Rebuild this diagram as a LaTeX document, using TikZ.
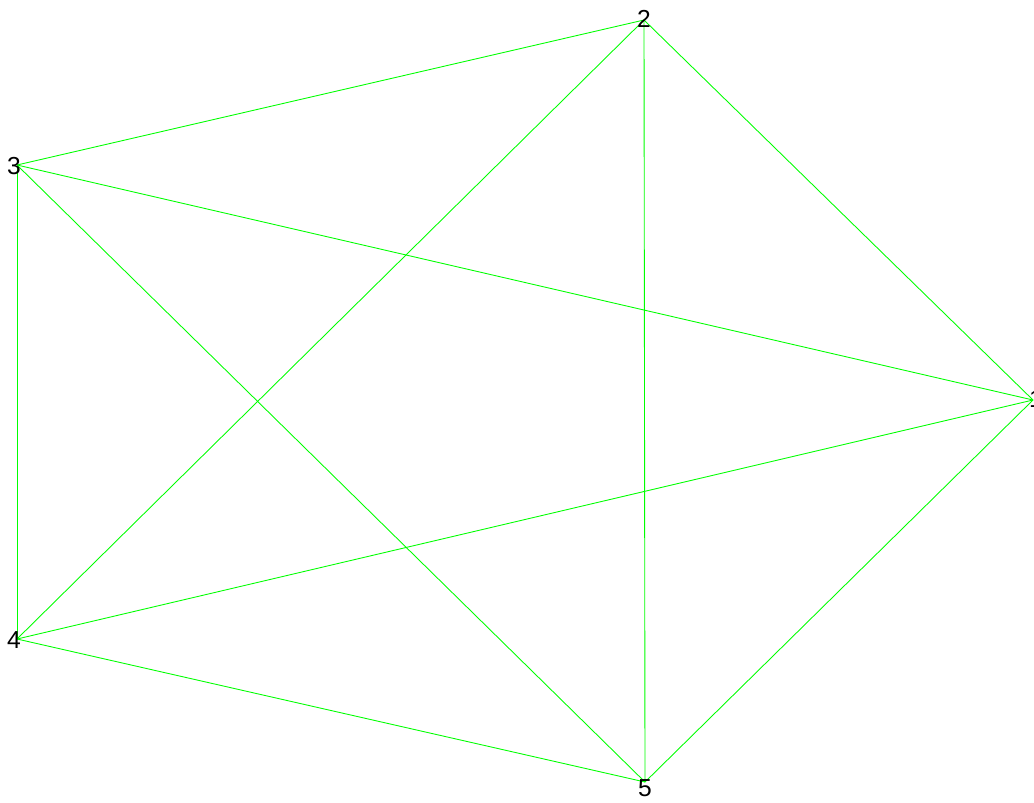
\documentclass[tikz,border=0pt]{standalone}
\usepackage{fontspec}
\setmainfont{Liberation Sans}
\definecolor{edgeGreen}{HTML}{00FF00}
\usetikzlibrary{positioning}

\begin{document}
\begin{tikzpicture}[
  x=0.02cm, y=-0.02cm,
  vtx/.style={inner sep=0pt, font=\fontsize{14}{16}\selectfont},
  link/.style={draw=edgeGreen, line width=0.5pt}
]
  \useasboundingbox (0,0) rectangle (1034,802);
  % vertices
  \coordinate (v1) at (1033,400);
  \coordinate (v2) at (644,20);
  \coordinate (v3) at (17,165);
  \coordinate (v4) at (17,639);
  \coordinate (v5) at (645,782);

  \foreach \a/\b in {v1/v2, v1/v3, v1/v4, v1/v5, v2/v3, v2/v4, v2/v5, v3/v4, v3/v5, v4/v5}
    \draw[link] (\a) -- (\b);

  \node[vtx] (n1) at (1036,399) {1};
  \node[vtx] (n2) at (644,19) {2};
  \node[vtx] (n3) at (14,166) {3};
  \node[vtx] (n4) at (14,640) {4};
  \node[vtx] (n5) at (645,788) {5};
\end{tikzpicture}
\end{document}
